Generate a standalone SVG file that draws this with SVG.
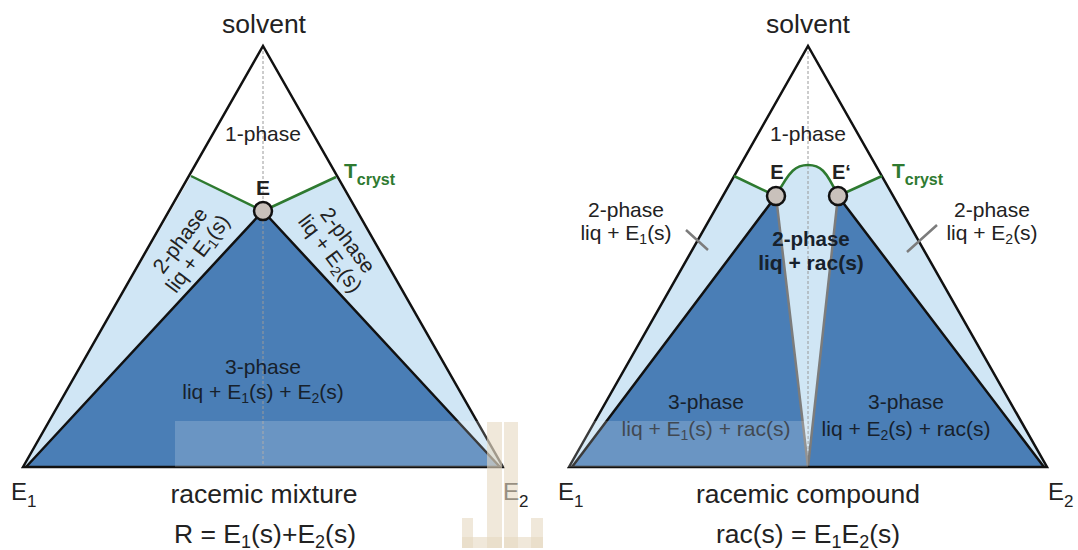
<svg xmlns="http://www.w3.org/2000/svg" width="1078" height="550" viewBox="0 0 1078 550">
<style>
text{font-family:"Liberation Sans",Arial,Helvetica,sans-serif;fill:#222}
.big{font-size:26.5px}
.sm{font-size:21px}
.dk{fill:#17212c}
.bold{font-weight:bold}
.sub{font-size:14px}
.gr{fill:#2e7a30;font-weight:bold}
.dark{fill:#4a7eb6}
.light{fill:#d0e6f5}
.edge{fill:none;stroke:#111;stroke-width:2.5;stroke-linejoin:miter}
.grey{fill:none;stroke:#7c7c7c;stroke-width:2.5}
.green{fill:none;stroke:#2e7a30;stroke-width:2.5}
.dash{stroke:#9a9a9a;stroke-width:1;stroke-dasharray:3 2}
.pt{fill:#c9c1bb;stroke:#111;stroke-width:2.5}
</style>
<rect width="1078" height="550" fill="#ffffff"/>

<g id="racemic-mixture">
  <path class="light" d="M191,176 L263,211 L336,177 L503,467 L23,467 L191,176 Z"/>
  <path class="dark" d="M263,211 L26,467 L500,467 Z"/>
  <line class="dash" x1="263" y1="46" x2="263" y2="467"/>
  <path class="edge" d="M263,211 L26,467 M263,211 L500,467"/>
  <path class="edge" d="M23,467 L263,46 L503,467 Z"/>
  <path class="green" d="M191,176 L263,211 L336,177"/>
  <circle class="pt" cx="263" cy="211" r="9"/>
  <text class="big" x="264" y="33" text-anchor="middle">solvent</text>
  <text class="sm" x="263" y="141" text-anchor="middle">1-phase</text>
  <text class="bold" x="263" y="195" font-size="21" text-anchor="middle">E</text>
  <text class="gr" x="344" y="178" font-size="21">T<tspan font-size="16" dy="7">cryst</tspan></text>
  <g transform="translate(189,247) rotate(-53)">
    <text class="sm" x="0" y="-4" text-anchor="middle">2-phase</text>
    <text class="sm" x="0" y="18" text-anchor="middle">liq + E<tspan class="sub" dy="4">1</tspan><tspan dy="-4">(s)</tspan></text>
  </g>
  <g transform="translate(339,247) rotate(53)">
    <text class="sm" x="0" y="-4" text-anchor="middle">2-phase</text>
    <text class="sm" x="0" y="18" text-anchor="middle">liq + E<tspan class="sub" dy="4">2</tspan><tspan dy="-4">(s)</tspan></text>
  </g>
  <text class="sm dk" x="263" y="374" text-anchor="middle">3-phase</text>
  <text class="sm dk" x="263" y="399" text-anchor="middle">liq + E<tspan class="sub" dy="4">1</tspan><tspan dy="-4">(s) + E</tspan><tspan class="sub" dy="4">2</tspan><tspan dy="-4">(s)</tspan></text>
  <text x="11" y="500" font-size="24">E<tspan font-size="17" dy="7">1</tspan></text>
  <text x="503" y="500" font-size="24">E<tspan font-size="17" dy="7">2</tspan></text>
  <text class="big" x="264" y="503" text-anchor="middle">racemic mixture</text>
  <text class="big" x="265" y="543" text-anchor="middle">R = E<tspan font-size="18" dy="5">1</tspan><tspan dy="-5">(s)+E</tspan><tspan font-size="18" dy="5">2</tspan><tspan dy="-5">(s)</tspan></text>
</g>

<g id="racemic-compound">
  <path class="light" d="M734,176 L776,196 C790,170 796,165 808,165 C820,165 826,170 838,196 L882,176 L1047,467 L569,467 Z"/>
  <path class="dark" d="M776,196 L572,467 L808,467 Z"/>
  <path class="dark" d="M838,196 L808,467 L1044,467 Z"/>
  <line class="dash" x1="808" y1="46" x2="808" y2="467"/>
  <path class="grey" d="M776,196 L808,467 L838,196"/>
  <path class="edge" d="M776,196 L572,467 M838,196 L1044,467"/>
  <path class="edge" d="M569,467 L808,46 L1047,467 Z"/>
  <path class="green" d="M734,176 L776,196 C790,170 796,165 808,165 C820,165 826,170 838,196 L882,176"/>
  <circle class="pt" cx="776" cy="196" r="9"/>
  <circle class="pt" cx="838" cy="196" r="9"/>
  <path class="grey" d="M686,230 L708,250 M937,225 L907,252"/>
  <text class="big" x="808" y="33" text-anchor="middle">solvent</text>
  <text class="sm" x="808" y="141" text-anchor="middle">1-phase</text>
  <text class="bold" x="777" y="179" font-size="20" text-anchor="middle">E</text>
  <text class="bold" x="832" y="179" font-size="20">E‘</text>
  <text class="gr" x="892" y="178" font-size="21">T<tspan font-size="16" dy="7">cryst</tspan></text>
  <text class="sm" x="626" y="217" text-anchor="middle">2-phase</text>
  <text class="sm" x="626" y="240" text-anchor="middle">liq + E<tspan class="sub" dy="4">1</tspan><tspan dy="-4">(s)</tspan></text>
  <text class="sm" x="992" y="217" text-anchor="middle">2-phase</text>
  <text class="sm" x="992" y="240" text-anchor="middle">liq + E<tspan class="sub" dy="4">2</tspan><tspan dy="-4">(s)</tspan></text>
  <text class="bold dk" x="811" y="246" font-size="20.5" text-anchor="middle">2-phase</text>
  <text class="bold dk" x="811" y="270" font-size="21" text-anchor="middle">liq + rac(s)</text>
  <text class="sm dk" x="706" y="409" text-anchor="middle">3-phase</text>
  <text class="sm dk" x="706" y="436" text-anchor="middle">liq + E<tspan class="sub" dy="4">1</tspan><tspan dy="-4">(s) + rac(s)</tspan></text>
  <text class="sm dk" x="906" y="409" text-anchor="middle">3-phase</text>
  <text class="sm dk" x="906" y="436" text-anchor="middle">liq + E<tspan class="sub" dy="4">2</tspan><tspan dy="-4">(s) + rac(s)</tspan></text>
  <text x="558" y="500" font-size="24">E<tspan font-size="17" dy="7">1</tspan></text>
  <text x="1048" y="500" font-size="24">E<tspan font-size="17" dy="7">2</tspan></text>
  <text class="big" x="808" y="503" text-anchor="middle">racemic compound</text>
  <text class="big" x="808" y="543" text-anchor="middle">rac(s) = E<tspan font-size="18" dy="5">1</tspan><tspan dy="-5">E</tspan><tspan font-size="18" dy="5">2</tspan><tspan dy="-5">(s)</tspan></text>
</g>

<g id="watermark">
  <rect x="175" y="421" width="633" height="46" fill="#ffffff" fill-opacity="0.18"/>
  <g fill="#e6d9c2" fill-opacity="0.6">
    <rect x="462" y="518" width="11" height="30"/>
    <rect x="462" y="537" width="40" height="11"/>
    <rect x="487" y="422" width="15" height="126"/>
    <rect x="504" y="422" width="14" height="126"/>
    <rect x="504" y="537" width="39" height="11"/>
    <rect x="531" y="518" width="12" height="30"/>
  </g>
</g>
</svg>
